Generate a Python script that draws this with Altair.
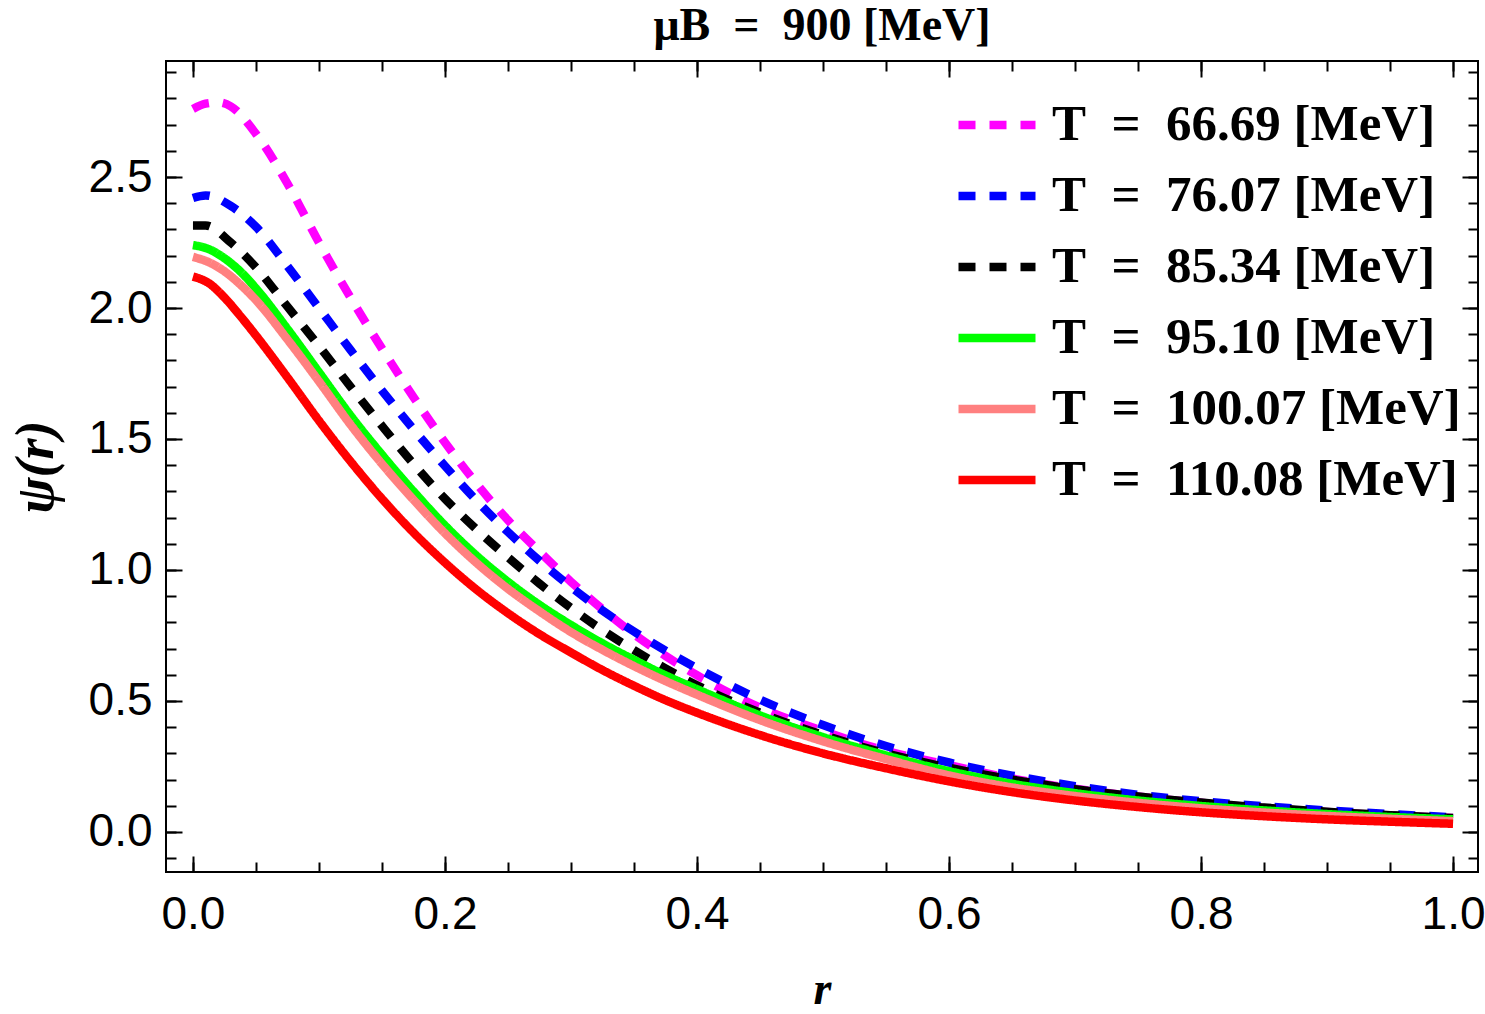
import altair as alt
import pandas as pd

# ---- data ----
EN = "\u2002"
series_names = [f"T{EN}={EN}66.69 [MeV]", f"T{EN}={EN}76.07 [MeV]", f"T{EN}={EN}85.34 [MeV]",
                f"T{EN}={EN}95.10 [MeV]", f"T{EN}={EN}100.07 [MeV]", f"T{EN}={EN}110.08 [MeV]"]
colors = ["#FF00FF", "#0000FF", "#000000", "#00FF00", "#FF8080", "#FF0000"]
dashes = [[17, 14], [17, 14], [17, 14], [1, 0], [1, 0], [1, 0]]

r_66 = [0, 0.01, 0.02, 0.03, 0.05, 0.075, 0.1, 0.125, 0.15, 0.175, 0.2, 0.225, 0.25, 0.275, 0.3,
        0.325, 0.35, 0.375, 0.4, 0.45, 0.5, 0.55, 0.6, 0.65, 0.7, 0.75, 0.8, 0.85, 0.9, 0.95, 1.0]
psi_66 = [2.76, 2.78, 2.785, 2.77, 2.665, 2.475, 2.25, 2.04, 1.845, 1.66, 1.487, 1.33, 1.19, 1.07, 0.955,
          0.85, 0.755, 0.672, 0.598, 0.475, 0.385, 0.31, 0.255, 0.204, 0.165, 0.135, 0.111, 0.091, 0.076, 0.063, 0.053]

r_76 = [0, 0.01, 0.03, 0.05, 0.075, 0.1, 0.125, 0.15, 0.175, 0.2, 0.225, 0.25, 0.275, 0.3,
        0.325, 0.35, 0.375, 0.4, 0.45, 0.5, 0.55, 0.6, 0.65, 0.7, 0.75, 0.8, 0.85, 0.9, 0.95, 1.0]
psi_76 = [2.42, 2.43, 2.39, 2.31, 2.16, 2.0, 1.84, 1.685, 1.537, 1.397, 1.265, 1.145, 1.035, 0.935,
          0.845, 0.765, 0.692, 0.625, 0.505, 0.408, 0.328, 0.265, 0.215, 0.175, 0.142, 0.117, 0.098, 0.082, 0.068, 0.056]

r_85 = [0, 0.01, 0.03, 0.05, 0.075, 0.1, 0.125, 0.15, 0.175, 0.2, 0.225, 0.25, 0.275, 0.3,
        0.325, 0.35, 0.375, 0.4, 0.45, 0.5, 0.55, 0.6, 0.65, 0.7, 0.75, 0.8, 0.85, 0.9, 0.95, 1.0]
psi_85 = [2.315, 2.315, 2.25, 2.155, 2.005, 1.855, 1.70, 1.55, 1.405, 1.272, 1.155, 1.048, 0.948, 0.855,
          0.77, 0.694, 0.624, 0.56, 0.455, 0.37, 0.30, 0.245, 0.20, 0.163, 0.135, 0.112, 0.093, 0.077, 0.064, 0.053]

r_95 = [0, 0.0125, 0.025, 0.0375, 0.05, 0.075, 0.1, 0.125, 0.15, 0.175, 0.2, 0.225, 0.25, 0.275, 0.3,
        0.325, 0.35, 0.375, 0.4, 0.45, 0.5, 0.55, 0.6, 0.65, 0.7, 0.75, 0.8, 0.85, 0.9, 0.95, 1.0]
psi_95 = [2.24, 2.225, 2.19, 2.14, 2.075, 1.92, 1.755, 1.59, 1.44, 1.30, 1.17, 1.055, 0.955, 0.867, 0.79,
          0.72, 0.657, 0.598, 0.545, 0.445, 0.362, 0.292, 0.232, 0.184, 0.148, 0.12, 0.099, 0.082, 0.068, 0.057, 0.048]

r_100 = [0, 0.0125, 0.025, 0.0375, 0.05, 0.075, 0.1, 0.125, 0.15, 0.175, 0.2, 0.225, 0.25, 0.275, 0.3,
         0.325, 0.35, 0.375, 0.4, 0.45, 0.5, 0.55, 0.6, 0.65, 0.7, 0.75, 0.8, 0.85, 0.9, 0.95, 1.0]
psi_100 = [2.195, 2.175, 2.14, 2.09, 2.03, 1.88, 1.72, 1.555, 1.405, 1.268, 1.14, 1.027, 0.928, 0.842, 0.763,
           0.695, 0.633, 0.576, 0.524, 0.427, 0.346, 0.278, 0.216, 0.17, 0.137, 0.111, 0.09, 0.074, 0.061, 0.05, 0.041]

r_110 = [0, 0.0125, 0.025, 0.0375, 0.05, 0.075, 0.1, 0.125, 0.15, 0.175, 0.2, 0.225, 0.25, 0.275, 0.3,
         0.325, 0.35, 0.375, 0.4, 0.45, 0.5, 0.55, 0.6, 0.65, 0.7, 0.75, 0.8, 0.85, 0.9, 0.95, 1.0]
psi_110 = [2.12, 2.095, 2.04, 1.97, 1.895, 1.735, 1.57, 1.415, 1.272, 1.143, 1.028, 0.925, 0.835, 0.755, 0.685,
           0.618, 0.558, 0.503, 0.455, 0.37, 0.30, 0.243, 0.193, 0.152, 0.12, 0.095, 0.075, 0.06, 0.048, 0.039, 0.031]

x_major = [0.0, 0.2, 0.4, 0.6, 0.8, 1.0]
x_minor = [round(0.05 * i, 2) for i in range(0, 21)]
y_major = [0.0, 0.5, 1.0, 1.5, 2.0, 2.5]
y_minor = [round(-0.1 + 0.1 * i, 1) for i in range(0, 31)]

rs = [r_66, r_76, r_85, r_95, r_100, r_110]
psis = [psi_66, psi_76, psi_85, psi_95, psi_100, psi_110]

rows = []
for name, rr, pp in zip(series_names, rs, psis):
    for a, b in zip(rr, pp):
        rows.append({"r": a, "psi": b, "series": name})
df = pd.DataFrame(rows)

X_DOM = [-0.0214, 1.0198]
Y_DOM = [-0.153, 2.943]


def xs():
    return alt.Scale(domain=X_DOM, nice=False, zero=False)


def ys():
    return alt.Scale(domain=Y_DOM, nice=False, zero=False)


leg = alt.Legend(
    title=None, orient="none", legendX=788, legendY=21, padding=0,
    symbolType="stroke", symbolSize=5929, symbolStrokeWidth=8.5,
    labelFont="Liberation Serif", labelFontSize=51, labelFontWeight="bold",
    labelColor="black", labelLimit=0, labelOffset=12, rowPadding=3,
)

lines = alt.Chart(df).mark_line(strokeWidth=8.5, interpolate="monotone", clip=True).encode(
    x=alt.X("r:Q", scale=xs(), axis=alt.Axis(
        orient="bottom", values=x_major, format=".1f", ticks=False, domain=False, grid=False,
        labelFont="Liberation Sans", labelFontSize=46, labelColor="black", labelPadding=20,
        title="r", titleFont="Liberation Serif", titleFontSize=46, titleFontStyle="italic",
        titleFontWeight="bold", titleColor="black", titlePadding=30, minExtent=0)),
    y=alt.Y("psi:Q", scale=ys(), axis=alt.Axis(
        orient="left", values=y_major, format=".1f", ticks=False, domain=False, grid=False,
        labelFont="Liberation Sans", labelFontSize=46, labelColor="black", labelPadding=14,
        title="ψ(r)", titleFont="Liberation Serif", titleFontSize=54, titleFontStyle="italic",
        titleFontWeight="bold", titleColor="black", titlePadding=25, minExtent=0)),
    color=alt.Color("series:N", scale=alt.Scale(domain=series_names, range=colors), legend=leg),
    strokeDash=alt.StrokeDash("series:N", scale=alt.Scale(domain=series_names, range=dashes), legend=leg),
)


def tick_layer(xorient, xvals, xlen, yorient, yvals, ylen):
    return alt.Chart(df).mark_point(opacity=0).encode(
        x=alt.X("r:Q", scale=xs(), title=None, axis=alt.Axis(
            orient=xorient, values=xvals, offset=-xlen, tickSize=xlen, labels=False,
            domain=False, grid=False, tickColor="black", tickWidth=2, minExtent=0, maxExtent=0)),
        y=alt.Y("psi:Q", scale=ys(), title=None, axis=alt.Axis(
            orient=yorient, values=yvals, offset=-ylen, tickSize=ylen, labels=False,
            domain=False, grid=False, tickColor="black", tickWidth=2, minExtent=0, maxExtent=0)),
    )


t1 = tick_layer("bottom", x_major, 16, "left", y_major, 16)
t2 = tick_layer("bottom", x_minor, 10, "left", y_minor, 10)
t3 = tick_layer("top", x_major, 16, "right", y_major, 16)
t4 = tick_layer("top", x_minor, 10, "right", y_minor, 10)

chart = alt.layer(t1, t2, t3, t4, lines).resolve_axis(
    x="independent", y="independent"
).properties(
    width=1312, height=811,
    autosize=alt.AutoSizeParams(type="none"),
    padding={"left": 166, "top": 61, "right": 7, "bottom": 142},
    title=alt.TitleParams(
        text=f"μB{EN}={EN}900 [MeV]", font="Liberation Serif", fontSize=46, fontWeight="bold",
        anchor="middle", frame="group", baseline="alphabetic", offset=-26, color="black"),
    background="white",
).configure_view(stroke="black", strokeWidth=2)

chart.save("out.html", embed_options={"renderer": "svg", "actions": False})
